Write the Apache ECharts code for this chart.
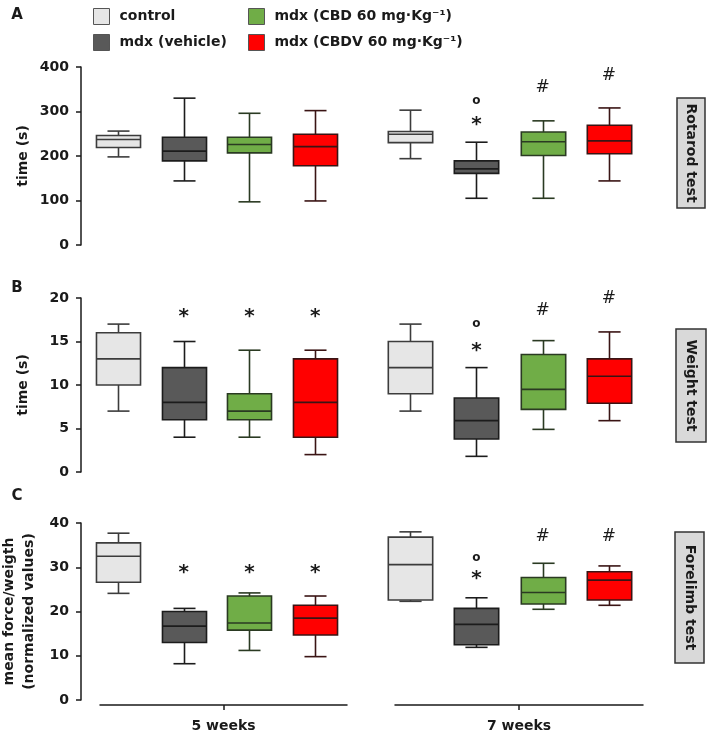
<!DOCTYPE html>
<html><head><meta charset="utf-8">
<script src="https://cdn.jsdelivr.net/npm/echarts@6/dist/echarts.min.js"></script>
<style>html,body{margin:0;padding:0;background:#fff}#c{width:709px;height:736px}</style>
</head><body><div id="c"></div>
<script>
// ---------- data ----------
const groups = ['control', 'mdx (vehicle)', 'mdx (CBD 60 mg·Kg⁻¹)', 'mdx (CBDV 60 mg·Kg⁻¹)'];
const periods = ['5 weeks', '7 weeks'];
const testNames = ['Rotarod test', 'Weight test', 'Forelimb test'];
const yNames = ['time (s)', 'time (s)', 'mean force/weigth\n(normalized values)'];
const rotarodTicks = [0, 100, 200, 300, 400];
const weightTicks = [0, 5, 10, 15, 20];
const forelimbTicks = [0, 10, 20, 30, 40];
// each box: [min, Q1, median, Q3, max]
const rotarod5 = [[198, 219, 237, 246, 256], [144, 189, 211, 242, 330], [97, 207, 226, 242, 296], [99, 178, 221, 249, 302]];
const rotarod7 = [[194, 230, 249, 255, 303], [105, 161, 171, 189, 231], [105, 201, 232, 254, 279], [144, 205, 234, 269, 308]];
const weight5 = [[7, 10, 13, 16, 17], [4, 6, 8, 12, 15], [4, 6, 7, 9, 14], [2, 4, 8, 13, 14]];
const weight7 = [[7, 9, 12, 15, 17], [1.8, 3.8, 5.9, 8.5, 12], [4.9, 7.2, 9.5, 13.5, 15.1], [5.9, 7.9, 11, 13, 16.1]];
const forelimb5 = [[24.1, 26.6, 32.5, 35.5, 37.7], [8.2, 13, 16.7, 20, 20.7], [11.2, 15.8, 17.4, 23.5, 24.2], [9.8, 14.7, 18.5, 21.4, 23.5]];
const forelimb7 = [[22.3, 22.6, 30.6, 36.8, 38], [11.9, 12.5, 17.1, 20.7, 23.1], [20.5, 21.7, 24.3, 27.7, 30.9], [21.4, 22.6, 27.1, 29, 30.3]];
// significance marks: [group index, value level, symbol]
const rotarodMarks5 = [];
const rotarodMarks7 = [[1, 279, '*'], [1, 322, 'o'], [2, 354, '#'], [3, 380, '#']];
const weightMarks5 = [[1, 18.3, '*'], [2, 18.3, '*'], [3, 18.3, '*']];
const weightMarks7 = [[1, 14.4, '*'], [1, 16.9, 'o'], [2, 18.6, '#'], [3, 19.9, '#']];
const forelimbMarks5 = [[1, 29.6, '*'], [2, 29.6, '*'], [3, 29.6, '*']];
const forelimbMarks7 = [[1, 28.3, '*'], [1, 31.9, 'o'], [2, 37, '#'], [3, 37, '#']];

// ---------- styles / layout ----------
const FONT = '"DejaVu Sans", Verdana, sans-serif';
const INK = '#1a1a1a';
const fills = ['#e6e6e6', '#595959', '#70ad47', '#ff0000'];
const strokes = ['#3c3c3c', '#1c1c1c', '#2a3a22', '#3a1414'];
const panels = [
  { ticks: rotarodTicks, boxes: [rotarod5, rotarod7], marks: [rotarodMarks5, rotarodMarks7], top: 67, height: 178, nameGap: 48, tag: { x: 677, y: 98, w: 28, h: 110 } },
  { ticks: weightTicks, boxes: [weight5, weight7], marks: [weightMarks5, weightMarks7], top: 298, height: 174, nameGap: 48, tag: { x: 676, y: 329, w: 30, h: 113 } },
  { ticks: forelimbTicks, boxes: [forelimb5, forelimb7], marks: [forelimbMarks5, forelimbMarks7], top: 523, height: 177, nameGap: 42, tag: { x: 675, y: 532, w: 29, h: 131 } }
];
const cols = [{ left: 85, width: 263 }, { left: 377, width: 265 }];
const periodAxes = [{ left: 100, width: 247 }, { left: 395, width: 248 }];

function makeBoxRenderer(fill, stroke) {
  return function (params, api) {
    const c = api.value(0);
    const pMin = api.coord([c, api.value(1)]);
    const pQ1 = api.coord([c, api.value(2)]);
    const pMed = api.coord([c, api.value(3)]);
    const pQ3 = api.coord([c, api.value(4)]);
    const pMax = api.coord([c, api.value(5)]);
    const bw = api.size([1, 0])[0] * 0.67;
    const cw = bw * 0.5;
    const x = Math.round(pMed[0]) + 0.5;
    const ls = { stroke: stroke, lineWidth: 1.6, fill: null };
    return {
      type: 'group', children: [
        { type: 'line', shape: { x1: x, y1: pQ1[1], x2: x, y2: pMin[1] }, style: ls },
        { type: 'line', shape: { x1: x, y1: pQ3[1], x2: x, y2: pMax[1] }, style: ls },
        { type: 'line', shape: { x1: x - cw / 2, y1: pMin[1], x2: x + cw / 2, y2: pMin[1] }, style: ls },
        { type: 'line', shape: { x1: x - cw / 2, y1: pMax[1], x2: x + cw / 2, y2: pMax[1] }, style: ls },
        { type: 'rect', shape: { x: x - bw / 2, y: pQ3[1], width: bw, height: pQ1[1] - pQ3[1] }, style: { fill: fill, stroke: stroke, lineWidth: 1.6 } },
        { type: 'line', shape: { x1: x - bw / 2, y1: pMed[1], x2: x + bw / 2, y2: pMed[1] }, style: ls }
      ]
    };
  };
}
function makeMarkRenderer(marks) {
  return function (params, api) {
    const p = api.coord([api.value(0), api.value(1)]);
    const t = marks[params.dataIndex][2];
    let font = '17px ' + FONT, dy = 0;
    if (t === '*') { font = 'bold 20px ' + FONT; dy = 4; }
    if (t === 'o') { font = 'bold 12px ' + FONT; dy = -1; }
    return { type: 'text', x: p[0], y: p[1] + dy, style: { text: t, font: font, fill: INK, textAlign: 'center', textVerticalAlign: 'middle' } };
  };
}

const grid = [], xAxis = [], yAxis = [], series = [], graphic = [];
const labelStyle = { fontFamily: FONT, fontWeight: 'bold', fontSize: 14, color: INK };
panels.forEach(function (p, pi) {
  cols.forEach(function (c, ci) {
    const gi = grid.length;
    grid.push({ left: c.left, width: c.width, top: p.top, height: p.height, outerBoundsMode: 'none', containLabel: false });
    xAxis.push({ type: 'category', gridIndex: gi, data: groups, show: false, boundaryGap: true });
    const t = p.ticks;
    yAxis.push({
      type: 'value', gridIndex: gi, min: t[0], max: t[t.length - 1], interval: t[1] - t[0], show: ci === 0,
      offset: 4, name: yNames[pi], nameLocation: 'middle', nameGap: p.nameGap, nameRotate: 90,
      nameTextStyle: Object.assign({ lineHeight: 20 }, labelStyle),
      axisLine: { show: true, lineStyle: { color: INK, width: 1.5 } },
      axisTick: { show: true, length: 5, lineStyle: { color: INK, width: 1.5 } },
      axisLabel: Object.assign({ margin: 12 }, labelStyle),
      splitLine: { show: false }
    });
    p.boxes[ci].forEach(function (b, g) {
      series.push({
        type: 'custom', name: groups[g], xAxisIndex: gi, yAxisIndex: gi,
        itemStyle: { color: fills[g], borderColor: strokes[g] },
        renderItem: makeBoxRenderer(fills[g], strokes[g]),
        encode: { x: 0, y: [1, 2, 3, 4, 5] },
        data: [[g].concat(b)], silent: true, animation: false
      });
    });
    const mk = p.marks[ci];
    if (mk.length) {
      series.push({
        type: 'custom', name: 'marks', xAxisIndex: gi, yAxisIndex: gi,
        renderItem: makeMarkRenderer(mk), encode: { x: 0, y: 1 },
        data: mk.map(function (m) { return [m[0], m[1]]; }), silent: true, animation: false
      });
    }
  });
  const tg = p.tag;
  graphic.push({ type: 'rect', shape: { x: tg.x, y: tg.y, width: tg.w, height: tg.h }, style: { fill: '#d9d9d9', stroke: '#333', lineWidth: 1.5 } });
  graphic.push({ type: 'text', x: tg.x + tg.w / 2, y: tg.y + tg.h / 2, rotation: -Math.PI / 2, style: { text: testNames[pi], font: 'bold 14px ' + FONT, fill: INK, textAlign: 'center', textVerticalAlign: 'middle' } });
});
// bottom period axes (panel C)
periodAxes.forEach(function (a, i) {
  const gi = grid.length;
  grid.push({ left: a.left, width: a.width, top: 700, height: 5, outerBoundsMode: 'none', containLabel: false });
  xAxis.push({
    type: 'category', gridIndex: gi, data: [periods[i]],
    axisLine: { show: true, lineStyle: { color: INK, width: 1.5 } },
    axisTick: { show: true, alignWithLabel: true, length: 5, lineStyle: { color: INK, width: 1.5 } },
    axisLabel: Object.assign({ margin: 14 }, labelStyle)
  });
  yAxis.push({ type: 'value', gridIndex: gi, show: false, min: 0, max: 1 });
});
// panel letters
[['A', 15], ['B', 288], ['C', 496]].forEach(function (l) {
  graphic.push({ type: 'text', x: 17, y: l[1], style: { text: l[0], font: 'bold 15px ' + FONT, fill: INK, textAlign: 'center', textVerticalAlign: 'middle' } });
});

const legendCommon = {
  orient: 'vertical', top: 3, itemWidth: 16, itemHeight: 16, itemGap: 9, icon: 'rect',
  itemStyle: { borderColor: '#555', borderWidth: 1 },
  textStyle: { fontFamily: FONT, fontWeight: 'bold', fontSize: 14, color: INK, padding: [0, 0, 0, 5] },
  selectedMode: false
};
const option = {
  animation: false,
  backgroundColor: '#fff',
  grid: grid, xAxis: xAxis, yAxis: yAxis, series: series, graphic: graphic,
  legend: [
    Object.assign({ left: 88, data: [groups[0], groups[1]] }, legendCommon),
    Object.assign({ left: 243, data: [groups[2], groups[3]] }, legendCommon)
  ]
};
const chart = echarts.init(document.getElementById('c'));
chart.setOption(option);
</script></body></html>
